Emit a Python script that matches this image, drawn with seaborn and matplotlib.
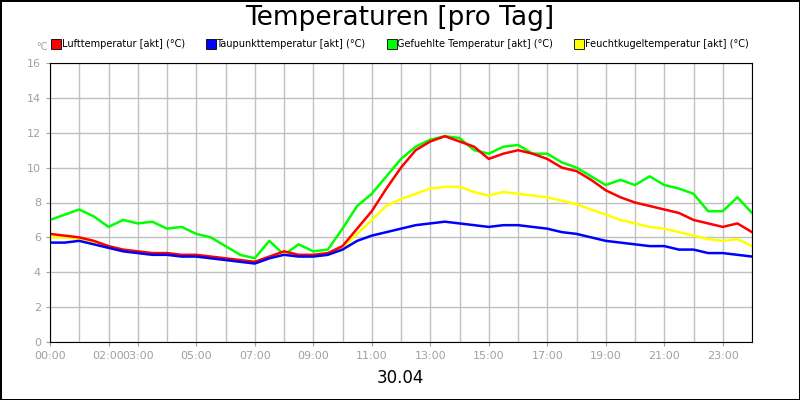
#!/usr/bin/env python3
import numpy as np
import pandas as pd
import matplotlib
matplotlib.use("Agg")
import matplotlib.pyplot as plt
import seaborn as sns
from matplotlib.lines import Line2D

# half-hour readings, 00:00 .. 24:00
hours = [i * 0.5 for i in range(49)]
luft = [6.2, 6.1, 6.0, 5.8, 5.5, 5.3, 5.2, 5.1, 5.1, 5.0, 5.0, 4.9, 4.8, 4.7, 4.6, 4.9,
        5.2, 5.0, 5.0, 5.1, 5.5, 6.5, 7.5, 8.8, 10.0, 11.0, 11.5, 11.8, 11.5, 11.2,
        10.5, 10.8, 11.0, 10.8, 10.5, 10.0, 9.8, 9.3, 8.7, 8.3, 8.0, 7.8, 7.6, 7.4,
        7.0, 6.8, 6.6, 6.8, 6.3]
taupunkt = [5.7, 5.7, 5.8, 5.6, 5.4, 5.2, 5.1, 5.0, 5.0, 4.9, 4.9, 4.8, 4.7, 4.6, 4.5, 4.8,
            5.0, 4.9, 4.9, 5.0, 5.3, 5.8, 6.1, 6.3, 6.5, 6.7, 6.8, 6.9, 6.8, 6.7,
            6.6, 6.7, 6.7, 6.6, 6.5, 6.3, 6.2, 6.0, 5.8, 5.7, 5.6, 5.5, 5.5, 5.3,
            5.3, 5.1, 5.1, 5.0, 4.9]
gefuehlt = [7.0, 7.3, 7.6, 7.2, 6.6, 7.0, 6.8, 6.9, 6.5, 6.6, 6.2, 6.0, 5.5, 5.0, 4.8, 5.8,
            5.0, 5.6, 5.2, 5.3, 6.5, 7.8, 8.5, 9.5, 10.5, 11.2, 11.6, 11.8, 11.7, 11.0,
            10.8, 11.2, 11.3, 10.8, 10.8, 10.3, 10.0, 9.5, 9.0, 9.3, 9.0, 9.5, 9.0, 8.8,
            8.5, 7.5, 7.5, 8.3, 7.4]
feuchtkugel = [6.0, 6.0, 5.9, 5.7, 5.4, 5.2, 5.1, 5.0, 5.0, 4.9, 4.9, 4.8, 4.7, 4.6, 4.5, 4.8,
               5.1, 4.9, 4.9, 5.0, 5.4, 6.2, 7.0, 7.8, 8.2, 8.5, 8.8, 8.9, 8.9, 8.6,
               8.4, 8.6, 8.5, 8.4, 8.3, 8.1, 7.9, 7.6, 7.3, 7.0, 6.8, 6.6, 6.5, 6.3,
               6.1, 5.9, 5.8, 5.9, 5.5]

series = {
    "Lufttemperatur [akt] (°C)": ("#ff0000", luft),
    "Taupunkttemperatur [akt] (°C)": ("#0000ff", taupunkt),
    "Gefuehlte Temperatur [akt] (°C)": ("#00ff00", gefuehlt),
    "Feuchtkugeltemperatur [akt] (°C)": ("#ffff00", feuchtkugel),
}
tick_hours = [0, 2, 3, 5, 7, 9, 11, 13, 15, 17, 19, 21, 23]

fig = plt.figure(figsize=(8, 4), dpi=100, facecolor="white", edgecolor="black", linewidth=2)
ax = fig.add_axes([0.0625, 0.145, 0.8775, 0.6975])

# draw green first so red/blue/yellow sit on top like the original
for name in ["Gefuehlte Temperatur [akt] (°C)", "Feuchtkugeltemperatur [akt] (°C)",
             "Lufttemperatur [akt] (°C)", "Taupunkttemperatur [akt] (°C)"]:
    color, vals = series[name]
    d = pd.DataFrame({"h": hours, "v": vals})
    sns.lineplot(data=d, x="h", y="v", ax=ax, color=color, linewidth=1.8)

ax.set_xlim(0, 24)
ax.set_ylim(0, 16)
ax.set_xticks(range(25), minor=True)
ax.set_xticks(tick_hours)
ax.set_xticklabels([f"{h:02d}:00" for h in tick_hours])
ax.set_yticks(range(0, 17, 2))
ax.grid(True, which="both", color="#c0c0c0", linewidth=1)
ax.tick_params(axis="both", which="both", colors="#a0a0a0", labelsize=8, length=3)
ax.tick_params(axis="x", which="minor", length=0)
for s in ax.spines.values():
    s.set_color("black")
ax.set_xlabel("")
ax.set_ylabel("")

fig.text(0.5, 0.955, "Temperaturen [pro Tag]", ha="center", va="center", fontsize=19)
fig.text(0.5, 0.055, "30.04", ha="center", va="center", fontsize=12)
fig.text(0.045, 0.882, "°C", ha="left", va="center", fontsize=7, color="#a0a0a0")

handles = [Line2D([], [], marker="s", linestyle="none", markersize=6.5, markerfacecolor=c,
                  markeredgecolor="black", markeredgewidth=0.6) for c, _ in series.values()]
fig.legend(handles, list(series.keys()), loc="center", bbox_to_anchor=(0.5, 0.89), ncol=4,
           frameon=False, fontsize=7, handletextpad=0.05, columnspacing=2.2,
           handlelength=1.0)

fig.savefig("out.png", dpi=100, edgecolor=fig.get_edgecolor())
